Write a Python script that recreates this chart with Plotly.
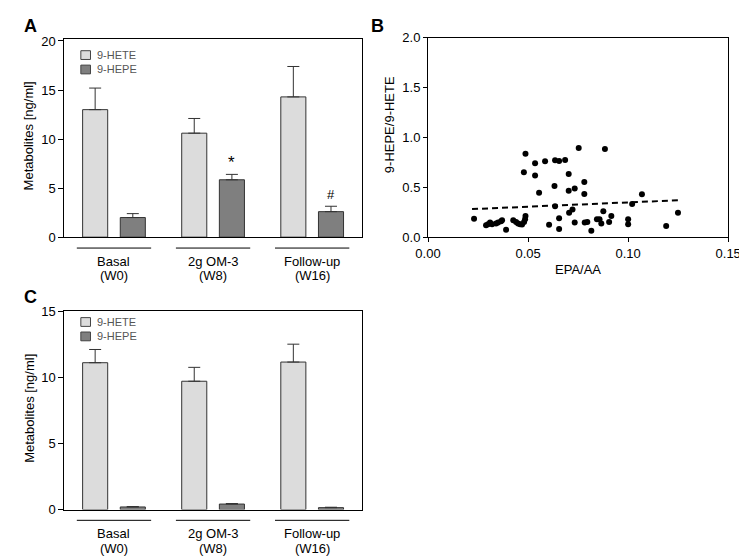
import plotly.graph_objects as go

# bar panels (A: plasma, C: second cohort)
groups = ["Basal", "2g OM-3", "Follow-up"]
weeks = ["(W0)", "(W8)", "(W16)"]
series = ["9-HETE", "9-HEPE"]

a_hete = [13.0, 10.6, 14.3]
a_hete_err = [2.2, 1.5, 3.1]
a_hepe = [2.0, 5.85, 2.6]
a_hepe_err = [0.4, 0.55, 0.55]
a_marks = ["", "*", "#"]

c_hete = [11.1, 9.7, 11.15]
c_hete_err = [1.0, 1.05, 1.35]
c_hepe = [0.2, 0.42, 0.15]
c_hepe_err = [0.03, 0.04, 0.03]

# scatter panel B
epa_aa = [0.023, 0.029, 0.030, 0.031, 0.032, 0.034, 0.035, 0.0365, 0.037, 0.039,
          0.0426, 0.044, 0.045, 0.046, 0.047, 0.048, 0.0485, 0.0487, 0.0479, 0.0487,
          0.0535, 0.0535, 0.0555, 0.0585, 0.0605, 0.0635, 0.0632, 0.0635, 0.0655, 0.0655,
          0.0655, 0.0685, 0.0703, 0.0703, 0.0705, 0.0722, 0.0733, 0.0733, 0.0753, 0.0781,
          0.0781, 0.0783, 0.0796, 0.0816, 0.0844, 0.0857, 0.0866, 0.0876, 0.0884, 0.0905,
          0.0916, 0.100, 0.100, 0.102, 0.1069, 0.119, 0.1249]
ratio = [0.185, 0.12, 0.13, 0.146, 0.13, 0.137, 0.146, 0.16, 0.169, 0.075,
         0.169, 0.153, 0.137, 0.13, 0.127, 0.153, 0.179, 0.211, 0.650, 0.836,
         0.618, 0.741, 0.446, 0.761, 0.124, 0.771, 0.514, 0.309, 0.764, 0.189,
         0.081, 0.774, 0.634, 0.465, 0.244, 0.276, 0.488, 0.146, 0.894, 0.553,
         0.433, 0.146, 0.153, 0.064, 0.179, 0.179, 0.137, 0.26, 0.885, 0.152,
         0.211, 0.18, 0.13, 0.332, 0.429, 0.113, 0.244]
fit_x = [0.022, 0.125]
fit_y = [0.281, 0.370]

W, H = 747, 557
FONT = "Liberation Sans, Arial, sans-serif"
LIGHT = "#dcdcdc"
DARK = "#7f7f7f"


def px(x):
    return x / W


def py(y):
    return 1 - y / H


fig = go.Figure()


def add_bars(xa, ya, hete, hete_err, hepe, hepe_err):
    for name, vals, errs, col in [(series[0], hete, hete_err, LIGHT),
                                  (series[1], hepe, hepe_err, DARK)]:
        fig.add_trace(go.Bar(
            x=groups, y=vals, name=name, xaxis=xa, yaxis=ya, showlegend=False,
            marker=dict(color=col, line=dict(color="#333333", width=1)),
            error_y=dict(type="data", array=errs, arrayminus=[0] * len(errs),
                         symmetric=False, color="#333333", thickness=1, width=6),
        ))


add_bars("x", "y", a_hete, a_hete_err, a_hepe, a_hepe_err)
add_bars("x3", "y3", c_hete, c_hete_err, c_hepe, c_hepe_err)

fig.add_trace(go.Scatter(x=epa_aa, y=ratio, mode="markers", xaxis="x2", yaxis="y2",
                         marker=dict(color="black", size=6), showlegend=False,
                         cliponaxis=False))
fig.add_trace(go.Scatter(x=fit_x, y=fit_y, mode="lines", xaxis="x2", yaxis="y2",
                         line=dict(color="black", width=2, dash="6px,4px"),
                         showlegend=False))

frame = dict(showline=True, mirror=True, linecolor="black", linewidth=1,
             showgrid=False, zeroline=False)
cat_axis = dict(frame, type="category", range=[-0.5, 2.5], showticklabels=False, ticks="")
val_axis = dict(frame, ticks="outside", ticklen=5, tickcolor="black",
                tickfont=dict(size=13, color="black"))

fig.update_layout(
    width=W, height=H,
    margin=dict(l=0, r=0, t=0, b=0),
    paper_bgcolor="white", plot_bgcolor="white",
    font=dict(family=FONT, size=13, color="black"),
    barmode="group", bargap=0.24, bargroupgap=0.334,
    xaxis=dict(cat_axis, domain=[px(45), px(353)], anchor="y"),
    yaxis=dict(val_axis, domain=[py(228.3), py(25)], range=[0, 20.17],
               tickvals=[0, 5, 10, 15, 20], anchor="x"),
    xaxis3=dict(cat_axis, domain=[px(45), px(353)], anchor="y3"),
    yaxis3=dict(val_axis, domain=[py(508.3), py(304.3)], range=[0, 15],
                tickvals=[0, 5, 10, 15], anchor="x3"),
    xaxis2=dict(val_axis, domain=[px(421.7), px(732.7)], range=[0, 0.15],
                tickvals=[0, 0.05, 0.10, 0.15], tickformat=".2f", ticklen=4, anchor="y2"),
    yaxis2=dict(val_axis, domain=[py(228.3), py(23.3)], range=[0, 2],
                tickvals=[0, 0.5, 1.0, 1.5, 2.0], tickformat=".1f", ticklen=4, anchor="x2"),
)

ann = []
shapes = []

# category labels with underline
for xa, line_y, top_y in [("x", 239.5, 253.3), ("x3", 519.3, 533.3)]:
    for i, g in enumerate(groups):
        shapes.append(dict(type="line", xref=xa, yref="paper", x0=i - 0.375, x1=i + 0.375,
                           y0=py(line_y), y1=py(line_y), line=dict(color="black", width=1)))
        ann.append(dict(text=g, xref=xa, yref="paper", x=i, y=py(top_y), showarrow=False,
                        xanchor="center", yanchor="middle", font=dict(size=13)))
        ann.append(dict(text=weeks[i], xref=xa, yref="paper", x=i, y=py(top_y + 14.5),
                        showarrow=False, xanchor="center", yanchor="middle", font=dict(size=13)))

# significance marks over 9-HEPE bars in A
for i, m in enumerate(a_marks):
    if m:
        ann.append(dict(text=m, xref="x", yref="y", x=i + 0.19, y=a_hepe[i] + a_hepe_err[i],
                        showarrow=False, xanchor="center", yanchor="bottom",
                        yshift=0 if m == "*" else 2,
                        font=dict(size=17 if m == "*" else 13)))

# in-plot legends
for top in [36.7, 311.0]:
    for k, (name, col) in enumerate([(series[0], LIGHT), (series[1], DARK)]):
        y0 = top + k * 14.8
        shapes.append(dict(type="rect", xref="paper", yref="paper", x0=px(62), x1=px(72),
                           y0=py(y0 + 9), y1=py(y0), fillcolor=col,
                           line=dict(color="#444444", width=1)))
        ann.append(dict(text=name, xref="paper", yref="paper", x=px(77), y=py(y0 + 4.5),
                        showarrow=False, xanchor="left", yanchor="middle",
                        font=dict(size=11, color="#555555")))

# axis titles
ann.append(dict(text="Metabolites [ng/ml]", xref="paper", yref="paper", x=px(8), y=py(124),
                textangle=-90, showarrow=False, xanchor="center", yanchor="middle",
                font=dict(size=13)))
ann.append(dict(text="Metabolites [ng/ml]", xref="paper", yref="paper", x=px(8), y=py(404),
                textangle=-90, showarrow=False, xanchor="center", yanchor="middle",
                font=dict(size=13)))
ann.append(dict(text="9-HEPE/9-HETE", xref="paper", yref="paper", x=px(382), y=py(112.5),
                textangle=-90, showarrow=False, xanchor="center", yanchor="middle",
                font=dict(size=13)))
ann.append(dict(text="EPA/AA", xref="paper", yref="paper", x=px(577), y=py(262),
                showarrow=False, xanchor="center", yanchor="middle", font=dict(size=13)))

# panel letters
for letter, x, y in [("A", 10, 11), ("B", 369, 11), ("C", 10, 290)]:
    ann.append(dict(text="<b>%s</b>" % letter, xref="paper", yref="paper", x=px(x), y=py(y),
                    showarrow=False, xanchor="center", yanchor="middle", font=dict(size=18)))

fig.update_layout(annotations=ann, shapes=shapes)
fig.write_html("out.html")
